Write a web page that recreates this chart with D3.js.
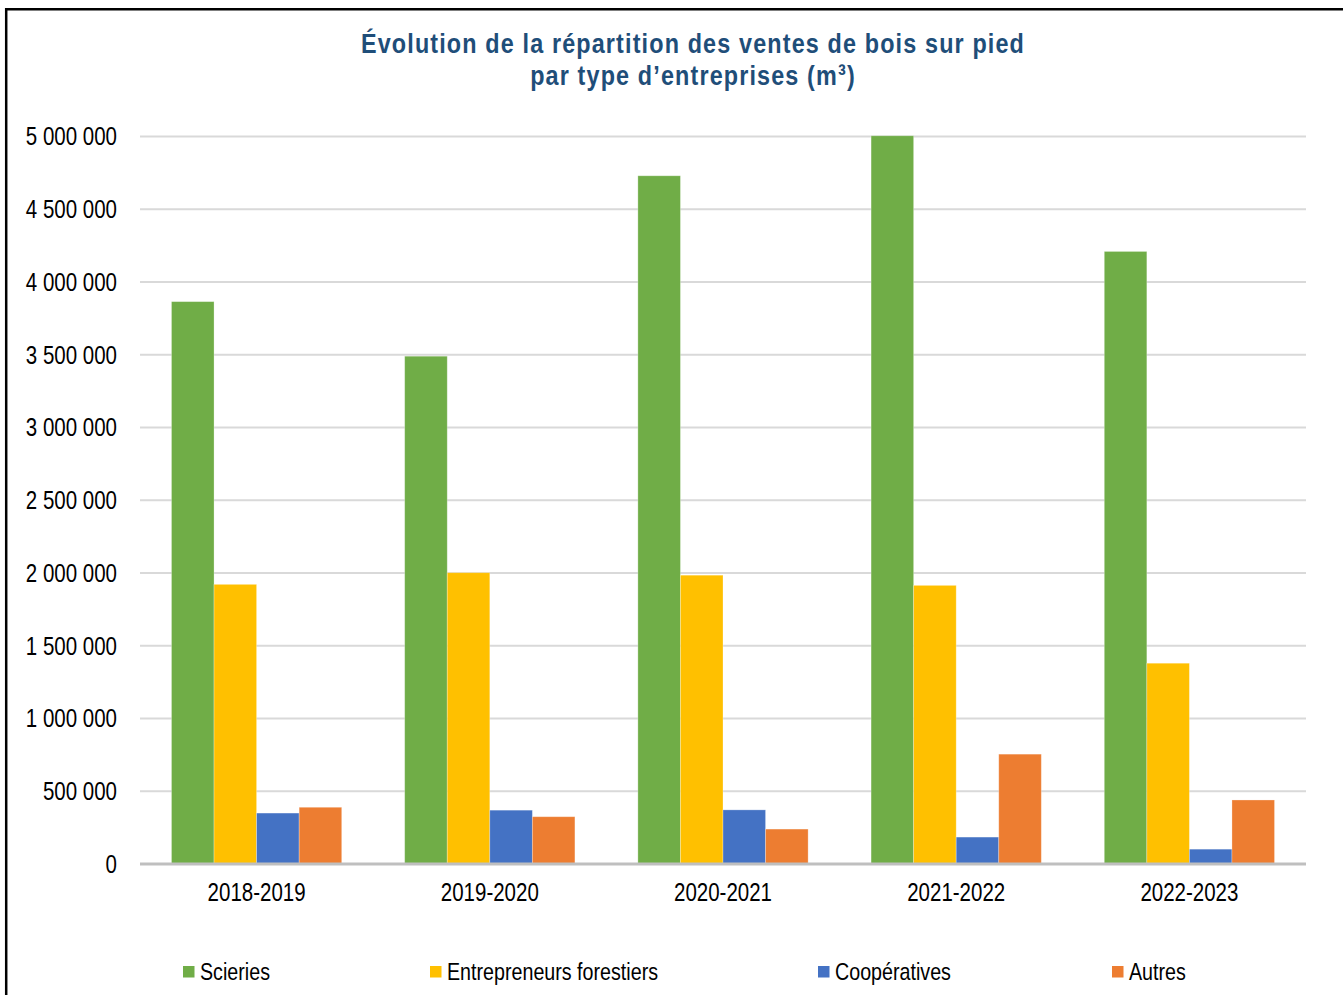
<!DOCTYPE html>
<html lang="fr">
<head>
<meta charset="utf-8">
<script src="https://cdn.jsdelivr.net/npm/d3@7"></script>
<style>
  html, body { margin: 0; padding: 0; background: #fff; }
  svg { display: block; }
  text { font-family: "Liberation Sans", Arial, sans-serif; }
</style>
</head>
<body>
<svg id="chart" width="1343" height="995"></svg>
<script>
// Campagnes (catégories de l'axe horizontal)
const years = ["2018-2019", "2019-2020", "2020-2021", "2021-2022", "2022-2023"];

// Volumes vendus par type d'entreprises (m³)
const scieries      = [3865000, 3490000, 4730000, 5005000, 4210000];
const entrepreneurs = [1922000, 2002000, 1985000, 1915000, 1380000];
const cooperatives  = [ 350000,  370000,  372000,  185000,  102000];
const autres        = [ 390000,  325000,  240000,  755000,  440000];

const seriesNames = ["Scieries", "Entrepreneurs forestiers", "Coopératives", "Autres"];
const seriesColors = ["#70ad47", "#ffc000", "#4472c4", "#ed7d31"];
const seriesValues = [scieries, entrepreneurs, cooperatives, autres];

// Graduations de l'axe vertical
const yTicks = [0, 500000, 1000000, 1500000, 2000000, 2500000, 3000000, 3500000, 4000000, 4500000, 5000000];

const svg = d3.select("#chart");
const W = 1343, H = 995;
const NARROW = 0.82; // compression horizontale du texte (police étroite)

// Cadre noir du graphique
svg.append("path")
  .attr("d", `M6.2,${H + 5} L6.2,9.3 L${W + 5},9.3`)
  .attr("fill", "none")
  .attr("stroke", "#000")
  .attr("stroke-width", 2.5);

const plot = { left: 140, right: 1306, top: 136.5, bottom: 864 };

const x0 = d3.scaleBand()
  .domain(years)
  .range([plot.left, plot.right])
  .paddingInner(0.27)
  .paddingOuter(0.135);

const x1 = d3.scaleBand()
  .domain(d3.range(seriesNames.length))
  .range([0, x0.bandwidth()]);

const y = d3.scaleLinear()
  .domain([0, 5000000])
  .range([plot.bottom, plot.top]);

const fmt = v => d3.format(",")(v).replace(/,/g, " ");

// Quadrillage horizontal
svg.append("g")
  .selectAll("line")
  .data(yTicks.filter(t => t > 0))
  .join("line")
  .attr("x1", plot.left)
  .attr("x2", plot.right)
  .attr("y1", d => y(d))
  .attr("y2", d => y(d))
  .attr("stroke", "#d9d9d9")
  .attr("stroke-width", 2);

// Libellés de l'axe vertical
const yAxis = d3.axisLeft(y).tickValues(yTicks).tickFormat(fmt).tickSize(0).tickPadding(0);
const gy = svg.append("g")
  .attr("transform", `translate(117,0)`)
  .call(yAxis);
gy.select(".domain").remove();
gy.selectAll("text")
  .attr("x", 0)
  .attr("font-size", 25)
  .attr("fill", "#000")
  .attr("dy", "0.33em")
  .attr("transform", `scale(${NARROW},1)`);

// Barres groupées
const groups = svg.append("g")
  .selectAll("g")
  .data(years.map((yr, i) => ({ yr, vals: seriesValues.map(s => s[i]) })))
  .join("g")
  .attr("transform", d => `translate(${x0(d.yr)},0)`);

groups.selectAll("rect")
  .data(d => d.vals.map((v, k) => ({ v, k })))
  .join("rect")
  .attr("x", d => x1(d.k))
  .attr("width", x1.bandwidth())
  .attr("y", d => y(d.v))
  .attr("height", d => y(0) - y(d.v))
  .attr("fill", d => seriesColors[d.k])
  .attr("stroke", "#fff")
  .attr("stroke-opacity", 0.35)
  .attr("stroke-width", 0.8);

// Axe horizontal
const xAxis = d3.axisBottom(x0).tickSize(0).tickPadding(0);
const gx = svg.append("g")
  .attr("transform", `translate(0,${plot.bottom})`)
  .call(xAxis);
gx.select(".domain")
  .attr("stroke", "#bfbfbf")
  .attr("stroke-width", 3)
  .attr("d", `M${plot.left},0H${plot.right}`);
gx.selectAll("text")
  .attr("font-size", 25)
  .attr("fill", "#000")
  .attr("dy", "0")
  .attr("y", 37)
  .attr("transform", `scale(${NARROW},1)`);

// Titre
const titleLines = ["Évolution de la répartition des ventes de bois sur pied", "par type d’entreprises (m³)"];
svg.append("g")
  .selectAll("text")
  .data(titleLines)
  .join("text")
  .attr("transform", (d, i) => `translate(693,${53 + i * 32}) scale(${NARROW},1)`)
  .attr("text-anchor", "middle")
  .attr("font-weight", "bold")
  .attr("font-size", 28.5)
  .attr("letter-spacing", 1.4)
  .attr("fill", "#1f4e79")
  .text(d => d);

// Légende
const legendX = [183, 430, 818, 1112];
const legend = svg.append("g")
  .selectAll("g")
  .data(seriesNames)
  .join("g")
  .attr("transform", (d, i) => `translate(${legendX[i]},966)`);
legend.append("rect")
  .attr("width", 11.5)
  .attr("height", 11.5)
  .attr("fill", (d, i) => seriesColors[i]);
legend.append("text")
  .attr("transform", `translate(17,14) scale(${NARROW},1)`)
  .attr("font-size", 24)
  .attr("fill", "#000")
  .text(d => d);
</script>
</body>
</html>
